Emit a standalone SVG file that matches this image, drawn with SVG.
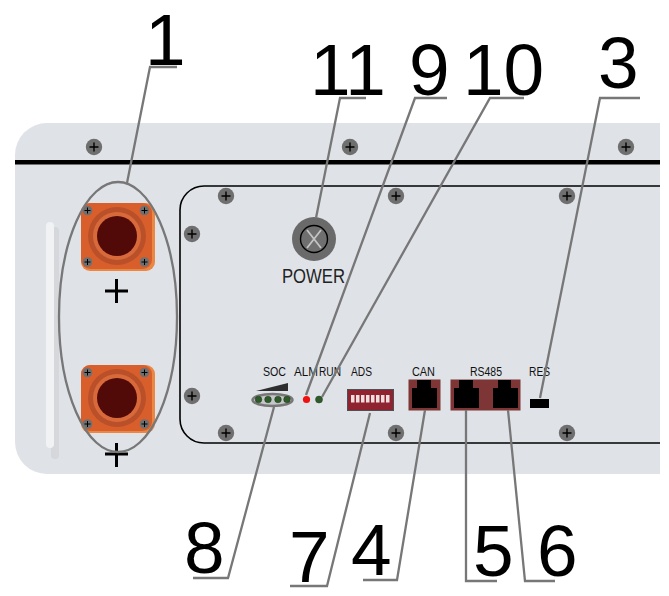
<svg xmlns="http://www.w3.org/2000/svg" width="669" height="596" viewBox="0 0 669 596">
<style>
.num{font-family:"Liberation Sans",Arial,sans-serif;font-size:73px;fill:#000}
.lab{font-family:"Liberation Sans",Arial,sans-serif;font-size:12.500px;fill:#111}
.lead{fill:none;stroke:#777;stroke-width:2.300}
.cr{stroke:#000;stroke-width:1.400}
.led{fill:#2f5a2a;stroke:#1d3a1a;stroke-width:.5}
.jack{fill:#000}
</style>
<defs>
<g id="screw"><circle r="8.200" fill="#6f6f6f"/><path class="cr" d="M-4.500 0H4.500M0-4.500V4.500"/></g>
<g id="small"><circle r="4.800" fill="#6f6f6f"/><path stroke="#000" stroke-width="1" d="M-3 0H3M0-3V3"/></g>
<g id="conn">
<rect x="0" y="0" width="74" height="68" rx="9" fill="#ea8743"/>
<rect x="0" y="0" width="71" height="66" rx="9" fill="#d85f2c"/>
<circle cx="36" cy="33" r="29" fill="#b9502a"/>
<circle cx="36" cy="33" r="24" fill="#d8693a"/>
<circle cx="36" cy="33" r="20" fill="#520a08"/>
<use href="#small" x="6.500" y="7.500"/><use href="#small" x="63.500" y="7.500"/><use href="#small" x="6.500" y="59"/><use href="#small" x="63.500" y="59"/>
</g>
</defs>
<rect width="669" height="596" fill="#fff"/>
<g id="panel">
<path d="M660 123H47A32 32 0 0 0 15 155V442A32 32 0 0 0 47 474H660Z" fill="#dfe2e7"/>
<rect x="15" y="160" width="645" height="4.500" fill="#000"/>
<path d="M660 186H204A24 24 0 0 0 180 210V419A24 24 0 0 0 204 443H660" fill="none" stroke="#000" stroke-width="1.600"/>
<rect x="51" y="227" width="8" height="232" rx="4" fill="#d5d7da"/>
<rect x="46" y="222" width="8" height="226" rx="4" fill="#f1f2f4"/>
<use href="#screw" x="94" y="147"/><use href="#screw" x="350" y="147"/><use href="#screw" x="626" y="147"/>
<use href="#screw" x="226" y="196"/><use href="#screw" x="396" y="196"/><use href="#screw" x="567" y="196"/>
<use href="#screw" x="192" y="234"/><use href="#screw" x="192" y="396"/>
<use href="#screw" x="226" y="433"/><use href="#screw" x="396" y="433"/><use href="#screw" x="567" y="433"/>
</g>
<g id="connector-top"><use href="#conn" x="81" y="203"/><path d="M105 291H128M116.500 279V303" stroke="#000" stroke-width="3" fill="none"/></g>
<g id="connector-bottom"><use href="#conn" x="81" y="365"/><path d="M105 454H128M116.500 443V467" stroke="#000" stroke-width="3" fill="none"/></g>
<g id="power">
<circle cx="314" cy="239" r="22" fill="#6a6a6a"/>
<circle cx="314" cy="239" r="13.500" fill="#6f6f6f" stroke="#000" stroke-width="1.400"/>
<path d="M307 230L321 248M321 230L307 248" stroke="#c4c4c4" stroke-width="1.800"/>
<text x="282" y="283" textLength="63" lengthAdjust="spacingAndGlyphs" style="font-family:'Liberation Sans',Arial,sans-serif;font-size:21px;fill:#222">POWER</text>
</g>
<g id="soc">
<text class="lab" x="263" y="376" textLength="23" lengthAdjust="spacingAndGlyphs">SOC</text>
<path d="M256 391L288 383V391Z" fill="#2e2e2e"/>
<ellipse cx="272.500" cy="400" rx="20" ry="6" fill="#c4c6c8" stroke="#777" stroke-width="2.500"/>
<circle class="led" cx="258.500" cy="399.500" r="3.300"/><circle class="led" cx="268" cy="399.500" r="3.300"/><circle class="led" cx="278" cy="399.500" r="3.300"/><circle class="led" cx="287" cy="399.500" r="3.300"/>
</g>
<g id="alm"><text class="lab" x="294" y="376" textLength="24" lengthAdjust="spacingAndGlyphs">ALM</text><circle cx="306.500" cy="399.500" r="3.600" fill="#f01010"/></g>
<g id="run"><text class="lab" x="319" y="376" textLength="22" lengthAdjust="spacingAndGlyphs">RUN</text><circle class="led" cx="319" cy="399.500" r="3.500"/></g>
<g id="ads">
<text class="lab" x="351" y="376" textLength="21" lengthAdjust="spacingAndGlyphs">ADS</text>
<rect x="347.500" y="389.500" width="46" height="21" fill="#8f2330" stroke="#4e4e55"/>
<g fill="#f0dede"><rect x="351" y="395" width="3.500" height="7.500"/><rect x="356" y="395" width="3.500" height="7.500"/><rect x="361" y="395" width="3.500" height="7.500"/><rect x="366" y="395" width="3.500" height="7.500"/><rect x="371" y="395" width="3.500" height="7.500"/><rect x="376" y="395" width="3.500" height="7.500"/><rect x="381" y="395" width="3.500" height="7.500"/><rect x="386" y="395" width="3.500" height="7.500"/></g>
</g>
<g id="can">
<text class="lab" x="412" y="376" textLength="23" lengthAdjust="spacingAndGlyphs">CAN</text>
<rect x="408.500" y="379.500" width="32" height="31" fill="#7d3535"/>
<path class="jack" d="M417 380H431V388H437V408H412V388H417Z"/>
</g>
<g id="rs485">
<text class="lab" x="470" y="376" textLength="32" lengthAdjust="spacingAndGlyphs">RS485</text>
<rect x="450.500" y="379.500" width="70" height="31" fill="#7d3535"/>
<path class="jack" d="M459 380H473V388H479V408H454V388H459Z"/>
<path class="jack" d="M498 380H511V388H518V408H493V388H498Z"/>
</g>
<g id="res"><text class="lab" x="529" y="376" textLength="21" lengthAdjust="spacingAndGlyphs">RES</text><rect x="530" y="399" width="19" height="9" fill="#000"/></g>
<g id="connectors">
<ellipse class="lead" cx="118" cy="317" rx="59" ry="135"/>
<path class="lead" d="M177 67H150L127 183"/>
<path class="lead" d="M366 98H340L316 218"/>
<path class="lead" d="M447 98H415L306 395"/>
<path class="lead" d="M524 98H490L322 397"/>
<path class="lead" d="M640 98H600L540 398"/>
<path class="lead" d="M193 578H228L274 407"/>
<path class="lead" d="M290 586H327L370 413"/>
<path class="lead" d="M363 580H397L425 410"/>
<path class="lead" d="M497 581H466V410"/>
<path class="lead" d="M555 581H525L508 410"/>
</g>
<g id="numbers">
<text class="num" x="145" y="65">1</text>
<text class="num" x="310" y="95">11</text>
<text class="num" x="409" y="95">9</text>
<text class="num" x="463" y="95">10</text>
<text class="num" x="598" y="88">3</text>
<text class="num" x="184" y="573">8</text>
<text class="num" x="289" y="582">7</text>
<text class="num" x="351" y="575">4</text>
<text class="num" x="473" y="576">5</text>
<text class="num" x="537" y="576">6</text>
</g>
</svg>
